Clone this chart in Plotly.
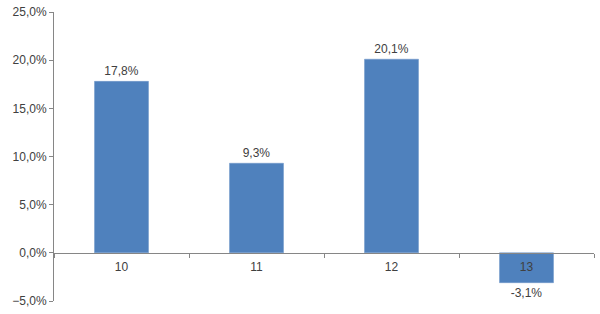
import plotly.graph_objects as go

categories = ["10", "11", "12", "13"]
values = [0.178, 0.093, 0.201, -0.031]
y_ticks = [-0.05, 0.0, 0.05, 0.10, 0.15, 0.20, 0.25]

y_min, y_max = -0.05, 0.25
axis_color = "#868686"
text_color = "#404040"
bar_color = "#4F81BD"
font_family = "Liberation Sans, Arial, sans-serif"

fig = go.Figure(go.Bar(
    x=categories,
    y=values,
    marker=dict(color=bar_color, line=dict(color="#6F97C8", width=0.5)),
    width=0.4,
    texttemplate="%{y:.1%}",
    textposition="outside",
    textfont=dict(family=font_family, size=12, color=text_color),
    cliponaxis=False,
))

fig.update_layout(
    width=600, height=314,
    margin=dict(l=54, r=6, t=12, b=13),
    paper_bgcolor="white", plot_bgcolor="white",
    separators=",.",
    showlegend=False,
    font=dict(family=font_family, size=12, color=text_color),
    xaxis=dict(
        type="category",
        anchor="free",
        position=(0 - y_min) / (y_max - y_min),
        showline=True, linecolor=axis_color, linewidth=1,
        ticks="outside", tickson="boundaries", ticklen=4, tickcolor=axis_color,
        ticklabelstandoff=3,
        showgrid=False, zeroline=False,
        tickfont=dict(size=12, color=text_color),
        range=[-0.5, 3.5],
    ),
    yaxis=dict(
        range=[y_min, y_max],
        tickvals=y_ticks,
        tickformat=".1%",
        showline=True, linecolor=axis_color, linewidth=1,
        ticks="outside", ticklen=4, tickcolor=axis_color,
        showgrid=False, zeroline=False,
        tickfont=dict(size=12, color=text_color),
    ),
    bargap=0.6,
)

fig.write_html("out.html")
